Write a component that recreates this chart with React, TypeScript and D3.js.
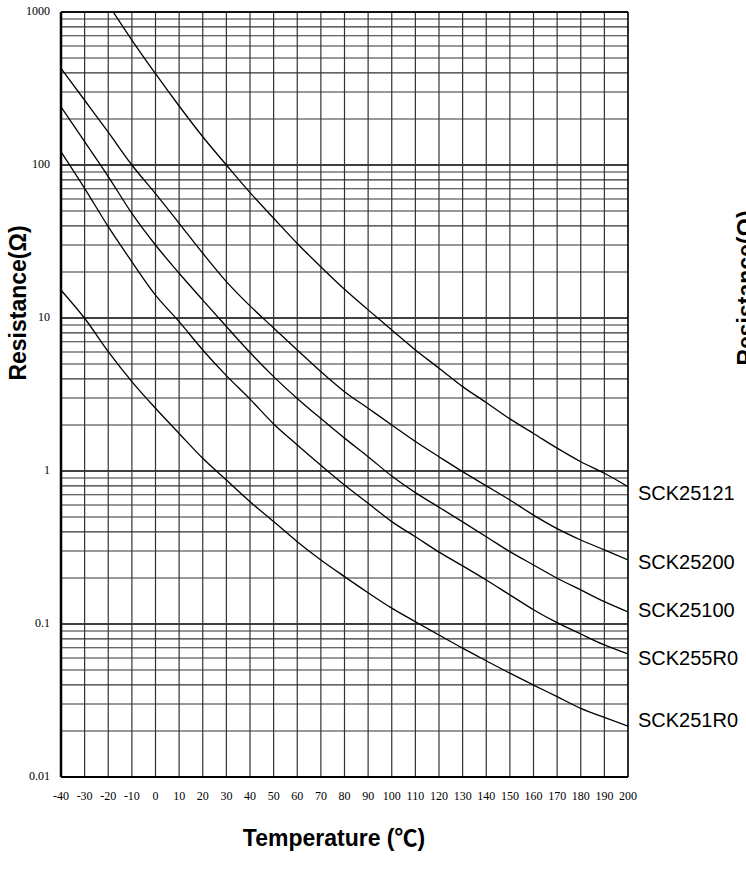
import React from "react";
import * as d3 from "d3";

const xTicks = [-40, -30, -20, -10, 0, 10, 20, 30, 40, 50, 60, 70, 80, 90, 100, 110, 120, 130, 140, 150, 160, 170, 180, 190, 200];
const yTickLabels = ["0.01", "0.1", "1", "10", "100", "1000"];
const yTickValues = [0.01, 0.1, 1, 10, 100, 1000];

const tempsFull = [-40, -30, -20, -10, 0, 10, 20, 30, 40, 50, 60, 70, 80, 90, 100, 110, 120, 130, 140, 150, 160, 170, 180, 190, 200];
const tempsA = [-20, -10, 0, 10, 20, 30, 40, 50, 60, 70, 80, 90, 100, 110, 120, 130, 140, 150, 160, 170, 180, 190, 200];

const sck25121 = [1120, 656, 395, 243, 153, 100, 66, 44.9, 30.7, 21.6, 15.4, 11.3, 8.35, 6.18, 4.7, 3.56, 2.8, 2.19, 1.76, 1.41, 1.15, 0.966, 0.79];
const sck25200 = [428, 265, 164, 100, 65, 41.6, 26.5, 17.3, 12, 8.6, 6.18, 4.46, 3.3, 2.57, 2.0, 1.56, 1.24, 0.99, 0.8, 0.646, 0.515, 0.42, 0.354, 0.305, 0.262];
const sck25100 = [240, 142, 84, 48.3, 30, 19.6, 13.1, 8.8, 5.95, 4.14, 2.98, 2.2, 1.64, 1.24, 0.927, 0.722, 0.58, 0.465, 0.372, 0.297, 0.243, 0.199, 0.167, 0.14, 0.12];
const sck255R0 = [122, 70.4, 39.5, 23.3, 14.1, 9.47, 6.18, 4.2, 2.95, 2.03, 1.48, 1.09, 0.81, 0.615, 0.467, 0.372, 0.295, 0.24, 0.194, 0.155, 0.124, 0.102, 0.086, 0.073, 0.0637];
const sck251R0 = [15.2, 9.96, 6.03, 3.84, 2.57, 1.76, 1.21, 0.873, 0.63, 0.467, 0.345, 0.262, 0.204, 0.16, 0.127, 0.1035, 0.0848, 0.0695, 0.0575, 0.0477, 0.0399, 0.0335, 0.0281, 0.0245, 0.0215];

const seriesNames = ["SCK25121", "SCK25200", "SCK25100", "SCK255R0", "SCK251R0"];

export default function App() {
  const left = 61, right = 628, top = 12, bottom = 777;
  const x = d3.scaleLinear().domain([-40, 200]).range([left, right]);
  const y = d3.scaleLog().domain([0.01, 1000]).range([bottom, top]);

  const series = [
    { name: seriesNames[0], t: tempsA, v: sck25121, dy: 8 },
    { name: seriesNames[1], t: tempsFull, v: sck25200, dy: 4 },
    { name: seriesNames[2], t: tempsFull, v: sck25100, dy: 0 },
    { name: seriesNames[3], t: tempsFull, v: sck255R0, dy: 6 },
    { name: seriesNames[4], t: tempsFull, v: sck251R0, dy: -4 },
  ];

  const line = d3
    .line<[number, number]>()
    .x((d) => x(d[0]))
    .y((d) => y(d[1]))
    .curve(d3.curveMonotoneX);

  const minorVals: number[] = [];
  for (let e = -2; e < 3; e++) {
    for (let m = 2; m <= 9; m++) minorVals.push(m * Math.pow(10, e));
  }

  const serif = "'Liberation Serif', 'Times New Roman', serif";
  const sans = "'Liberation Sans', Arial, 'Noto Sans CJK SC', sans-serif";

  return (
    <svg
      width={746}
      height={871}
      style={{ position: "absolute", left: 0, top: 0, background: "#fff" }}
    >
      <defs>
        <clipPath id="plotClip">
          <rect x={left} y={top} width={right - left} height={bottom - top} />
        </clipPath>
      </defs>
      <rect x={0} y={0} width={746} height={871} fill="#fff" />
      {minorVals.map((v, i) => (
        <line key={"hm" + i} x1={left} x2={right} y1={y(v)} y2={y(v)} stroke="#333" strokeWidth={1.1} />
      ))}
      {yTickValues.map((v, i) => (
        <line key={"hd" + i} x1={left} x2={right} y1={y(v)} y2={y(v)} stroke="#000" strokeWidth={1.3} />
      ))}
      {xTicks.map((t, i) => (
        <line key={"v" + i} x1={x(t)} x2={x(t)} y1={top} y2={bottom} stroke="#333" strokeWidth={1.2} />
      ))}
      <line x1={left} x2={left} y1={top} y2={bottom} stroke="#000" strokeWidth={2.5} />
      <line x1={left} x2={right} y1={bottom} y2={bottom} stroke="#000" strokeWidth={2} />
      <line x1={right} x2={right} y1={top} y2={bottom} stroke="#000" strokeWidth={1.3} />
      <line x1={left} x2={right} y1={top} y2={top} stroke="#000" strokeWidth={1.3} />

      <g clipPath="url(#plotClip)">
        {series.map((s) => (
          <path
            key={s.name}
            d={line(s.t.map((t, i) => [t, s.v[i]] as [number, number])) || ""}
            fill="none"
            stroke="#000"
            strokeWidth={1.3}
          />
        ))}
      </g>

      {series.map((s) => (
        <text
          key={"l" + s.name}
          x={right + 10}
          y={y(s.v[s.v.length - 1]) + s.dy}
          dominantBaseline="middle"
          fontFamily={sans}
          fontSize={20}
          fill="#000"
        >
          {s.name}
        </text>
      ))}

      {yTickValues.map((v, i) => (
        <text
          key={"yt" + i}
          x={50}
          y={y(v)}
          textAnchor="end"
          dominantBaseline="middle"
          fontFamily={serif}
          fontSize={12}
          fill="#000"
        >
          {yTickLabels[i]}
        </text>
      ))}

      {xTicks.map((t, i) => (
        <text
          key={"xt" + i}
          x={x(t)}
          y={797}
          textAnchor="middle"
          dominantBaseline="middle"
          fontFamily={serif}
          fontSize={12}
          fill="#000"
        >
          {t}
        </text>
      ))}

      <text
        x={334}
        y={846}
        textAnchor="middle"
        fontFamily={sans}
        fontWeight="bold"
        fontSize={23}
        fill="#000"
      >
        Temperature (℃)
      </text>
      <text
        transform="translate(26,303) rotate(-90)"
        textAnchor="middle"
        fontFamily={sans}
        fontWeight="bold"
        fontSize={23}
        fill="#000"
      >
        Resistance(Ω)
      </text>
      <text
        transform="translate(754,288) rotate(-90)"
        textAnchor="middle"
        fontFamily={sans}
        fontWeight="bold"
        fontSize={23}
        fill="#000"
      >
        Resistance(Ω)
      </text>
    </svg>
  );
}
